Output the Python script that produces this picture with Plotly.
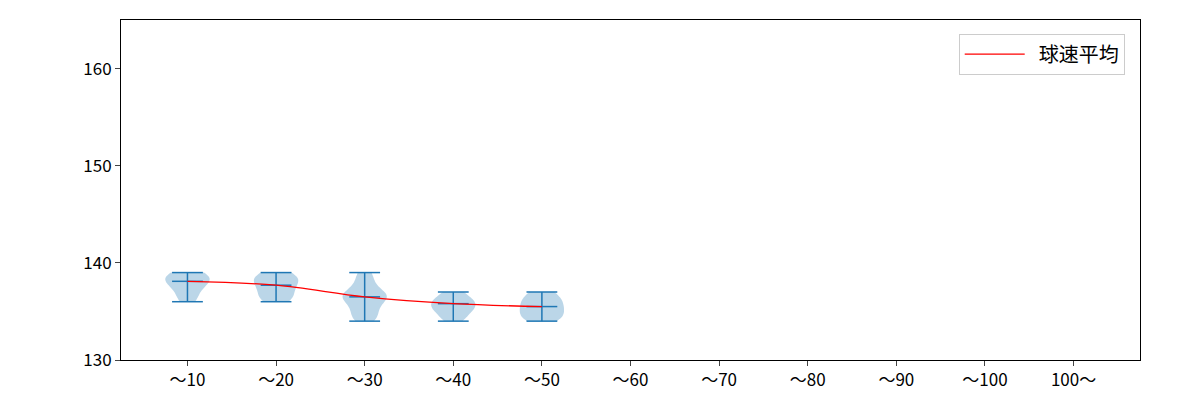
import plotly.graph_objects as go

cats = ["～10","～20","～30","～40","～50","～60","～70","～80","～90","～100","100～"]
samples = {
    "～10": [139,138.9,138.7,138.5,138.2,138,137.8,137.5,137,136.5,136],
    "～20": [139,138.8,138.5,138.3,138,137.7,137.4,137,136.6,136.3,136],
    "～30": [139,138.2,137.5,137,136.8,136.5,136.3,136,135.5,135,134.5,134],
    "～40": [137,136.6,136.3,136,135.8,135.6,135.4,135.2,134.8,134.4,134],
    "～50": [137,136.7,136.3,136,135.7,135.4,135.1,134.8,134.5,134.2,134],
}
means = [138.1,137.7,136.5,135.8,135.5]

fig = go.Figure()
for c, v in samples.items():
    fig.add_trace(go.Violin(x=[c]*len(v), y=v, spanmode="hard", width=0.5,
        fillcolor="rgba(31,119,180,0.3)", line=dict(width=0), points=False,
        showlegend=False, hoverinfo="skip", bandwidth=0.6))
vc = list(samples.keys())
mins = [min(v) for v in samples.values()]
maxs = [max(v) for v in samples.values()]
for c, lo, hi in zip(vc, mins, maxs):
    fig.add_trace(go.Scatter(x=[c,c], y=[lo,hi], mode="lines", line=dict(color="#1f77b4", width=1.5), showlegend=False))
fig.add_trace(go.Scatter(x=vc*3, y=mins+maxs+means, mode="markers",
    marker=dict(symbol="line-ew", size=22, line=dict(color="#1f77b4", width=1.5)), showlegend=False))
fig.add_trace(go.Scatter(x=vc, y=means, mode="lines", line=dict(color="red", width=1.3, shape="spline"), name="  球速平均"))

fig.update_layout(width=1200, height=400, margin=dict(l=113, r=68, t=12, b=48),
    plot_bgcolor="white", paper_bgcolor="white",
    font=dict(family="Noto Sans CJK JP", size=17, color="black"),
    violinmode="overlay",
    legend=dict(x=0.985, y=0.96, xanchor="right", yanchor="top", bordercolor="#cccccc", borderwidth=1,
                font=dict(size=20), itemwidth=60),
    xaxis=dict(categoryorder="array", categoryarray=cats, range=[-0.75,10.75], showline=True, mirror=True,
        linecolor="black", ticks="outside", showgrid=False, tickvals=cats),
    yaxis=dict(range=[130,165], tickvals=[130,140,150,160], showline=True, mirror=True, linecolor="black",
        ticks="outside", showgrid=False, zeroline=False))
fig.write_html("out.html")
